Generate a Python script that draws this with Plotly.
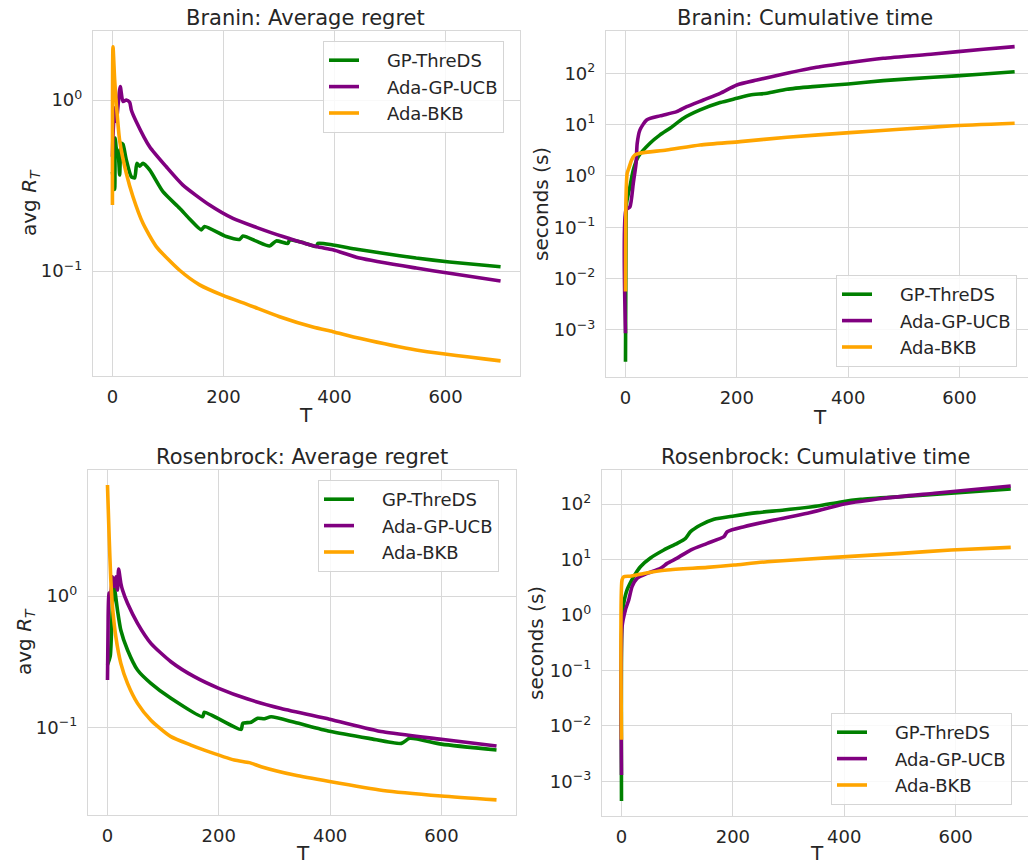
import plotly.graph_objects as go

# ---------------- data ----------------
names = ["GP-ThreDS", "Ada-GP-UCB", "Ada-BKB"]
colors = ["#008000", "#800080", "#FFA500"]
x_ticks = [0, 200, 400, 600]

# Branin: average regret
br_reg_gp_T = [0, 4, 5, 7, 10, 13, 16, 19, 25, 34, 40, 44, 49, 55, 67, 91, 121, 140, 160, 166, 205, 229, 235, 258, 283, 295, 316, 319, 345, 367, 370, 397, 440, 487, 547, 607, 699]
br_reg_gp_v = [0.38, 0.30, 0.60, 0.52, 0.50, 0.364, 0.558, 0.55, 0.446, 0.356, 0.35, 0.426, 0.41, 0.426, 0.39, 0.291, 0.233, 0.20, 0.174, 0.182, 0.159, 0.153, 0.16, 0.15, 0.14, 0.15, 0.145, 0.152, 0.146, 0.139, 0.145, 0.142, 0.134, 0.127, 0.119, 0.113, 0.106]
br_reg_ucb_T = [0, 1, 4, 7, 14, 19, 25, 31, 34, 43, 67, 97, 127, 175, 217, 259, 307, 367, 397, 445, 547, 607, 699]
br_reg_ucb_v = [0.466, 0.62, 0.9, 0.75, 1.2, 0.98, 1.0, 0.97, 0.875, 0.747, 0.533, 0.407, 0.318, 0.243, 0.203, 0.18, 0.159, 0.139, 0.133, 0.119, 0.104, 0.097, 0.0874]
br_reg_bkb_T = [0, 1, 4, 7, 13, 25, 37, 55, 79, 121, 157, 199, 247, 301, 361, 397, 445, 547, 699]
br_reg_bkb_v = [0.243, 2.05, 1.31, 0.95, 0.58, 0.372, 0.272, 0.19, 0.139, 0.101, 0.083, 0.072, 0.063, 0.054, 0.047, 0.0442, 0.0404, 0.0345, 0.0298]

# Branin: cumulative time (seconds)
br_time_gp_T = [0, 1, 2, 8, 14, 23, 44, 62, 80, 104, 134, 170, 200, 224, 254, 290, 337, 400, 463, 553, 637, 699]
br_time_gp_v = [2.4e-4, 0.14, 0.3, 0.62, 1.31, 2.38, 4.33, 6.3, 8.5, 13.3, 19.3, 26.9, 32.6, 37.9, 40.8, 48.9, 55, 62, 72, 83.5, 95.6, 107]
br_time_ucb_T = [0, 1, 8, 14, 19, 21, 26, 38, 62, 92, 110, 140, 170, 200, 236, 284, 343, 400, 463, 553, 643, 699]
br_time_ucb_v = [8.6e-4, 0.218, 0.25, 0.72, 1.77, 4.3, 7.9, 12.3, 14.8, 17.9, 22.4, 30.2, 40.8, 59.3, 74, 97, 131, 161, 196, 238, 294, 331]
br_time_bkb_T = [0, 1, 3, 7, 11, 17, 26, 74, 134, 206, 290, 403, 493, 583, 699]
br_time_bkb_v = [5.6e-3, 0.395, 1.13, 1.52, 2.05, 2.57, 2.77, 3.21, 4.02, 4.67, 5.67, 6.98, 8.1, 9.4, 10.6]

# Rosenbrock: average regret
ro_reg_gp_T = [0, 5, 9, 12, 18, 24, 36, 54, 78, 114, 171, 174, 240, 243, 258, 270, 282, 294, 336, 399, 470, 528, 543, 600, 699]
ro_reg_gp_v = [0.30, 0.35, 0.9, 1.17, 0.78, 0.55, 0.389, 0.274, 0.217, 0.167, 0.121, 0.131, 0.097, 0.108, 0.11, 0.118, 0.117, 0.121, 0.11, 0.094, 0.083, 0.076, 0.083, 0.075, 0.0678]
ro_reg_ucb_T = [0, 1, 3, 6, 9, 12, 15, 18, 20, 24, 27, 36, 54, 78, 114, 156, 200, 252, 312, 399, 495, 600, 699]
ro_reg_ucb_v = [0.23, 0.55, 1.05, 1.08, 1.4, 1.18, 1.4, 1.11, 1.6, 1.25, 1.11, 0.88, 0.62, 0.437, 0.317, 0.244, 0.199, 0.165, 0.14, 0.116, 0.093, 0.0816, 0.0726]
ro_reg_bkb_T = [0, 3, 6, 9, 15, 24, 36, 54, 78, 114, 150, 174, 228, 255, 276, 336, 399, 495, 600, 699]
ro_reg_bkb_v = [6.97, 2.82, 1.32, 0.83, 0.49, 0.308, 0.217, 0.153, 0.114, 0.0855, 0.0738, 0.0676, 0.0568, 0.0543, 0.0506, 0.0437, 0.039, 0.0334, 0.0303, 0.0283]

# Rosenbrock: cumulative time (seconds)
ro_time_gp_T = [0, 1, 4, 10, 22, 34, 52, 76, 100, 115, 124, 142, 166, 202, 244, 292, 352, 394, 430, 502, 592, 699]
ro_time_gp_v = [4.4e-4, 0.93, 1.62, 2.82, 4.9, 7.4, 10.6, 14.8, 19.5, 24, 31.7, 41.8, 53, 60.8, 69.8, 78, 92, 109, 121, 136, 156, 186]
ro_time_ucb_T = [0, 1, 7, 13, 19, 28, 46, 70, 82, 100, 124, 154, 184, 190, 220, 274, 334, 400, 472, 562, 699]
ro_time_ucb_v = [1.3e-3, 0.61, 1.23, 1.86, 3.24, 4.57, 5.6, 6.9, 8.5, 10.6, 14.8, 19.5, 25.8, 31.7, 39, 51.5, 68, 100, 127, 156, 211]
ro_time_bkb_T = [0, 1, 4, 16, 40, 82, 154, 202, 262, 382, 502, 592, 699]
ro_time_bkb_v = [5.6e-3, 4.27, 4.9, 5.0, 5.6, 6.46, 7.2, 7.94, 9.1, 10.9, 12.9, 14.8, 16.5]

titles = ["Branin: Average regret", "Branin: Cumulative time",
          "Rosenbrock: Average regret", "Rosenbrock: Cumulative time"]
regret_ticks = [0.1, 1]
regret_ticktext = ["10<sup>\u22121</sup>", "10<sup>0</sup>"]
time_ticks = [1e-3, 1e-2, 1e-1, 1, 10, 100]
time_ticktext = ["10<sup>\u22123</sup>", "10<sup>\u22122</sup>", "10<sup>\u22121</sup>",
                 "10<sup>0</sup>", "10<sup>1</sup>", "10<sup>2</sup>"]

# ---------------- figure ----------------
W, H = 1028, 865
TXT = "#262626"
GRID = "#d8d8d8"
FONT = "DejaVu Sans"
PAD = "\u00a0\u00a0\u00a0\u00a0"

panels = [
    ("", [(br_reg_gp_T, br_reg_gp_v), (br_reg_ucb_T, br_reg_ucb_v), (br_reg_bkb_T, br_reg_bkb_v)],
     (93, 520), (31, 376), [-35, 734], [-1.614, 0.4035], "legend", (323, 41), "regret"),
    ("2", [(br_time_gp_T, br_time_gp_v), (br_time_ucb_T, br_time_ucb_v), (br_time_bkb_T, br_time_bkb_v)],
     (606, 1028), (31, 377), [-35, 723], [-3.917, 2.824], "legend2", (836, 275), "time"),
    ("3", [(ro_reg_gp_T, ro_reg_gp_v), (ro_reg_ucb_T, ro_reg_ucb_v), (ro_reg_bkb_T, ro_reg_bkb_v)],
     (88, 516), (470, 815), [-35, 734], [-1.663, 0.957], "legend3", (318, 480), "regret"),
    ("4", [(ro_time_gp_T, ro_time_gp_v), (ro_time_ucb_T, ro_time_ucb_v), (ro_time_bkb_T, ro_time_bkb_v)],
     (602, 1028), (470, 816), [-35, 730], [-3.625, 2.613], "legend4", (831, 713), "time"),
]

fig = go.Figure()
layout = dict(width=W, height=H, margin=dict(l=0, r=0, t=0, b=0), autosize=False,
              paper_bgcolor="white", plot_bgcolor="white",
              font=dict(family=FONT, color=TXT, size=18))

for suf, series, xd, yd, xr, yr, leg, lpos, kind in panels:
    for (T, v), nm, col in zip(series, names, colors):
        fig.add_trace(go.Scatter(x=T, y=v, mode="lines", name=PAD + nm,
                                 line=dict(color=col, width=3.6, shape="spline", smoothing=0.6),
                                 xaxis="x" + suf, yaxis="y" + suf, legend=leg))
    layout["xaxis" + suf] = dict(
        domain=[xd[0] / W, xd[1] / W], range=xr, anchor="y" + suf,
        tickvals=x_ticks, showgrid=True, gridcolor=GRID, gridwidth=1,
        showline=True, mirror=True, linecolor=GRID, linewidth=1.2,
        zeroline=False, ticks="", tickfont=dict(size=18, color=TXT, family=FONT),
        ticklabelstandoff=4)
    layout["yaxis" + suf] = dict(
        domain=[1 - yd[1] / H, 1 - yd[0] / H], range=yr, type="log", anchor="x" + suf,
        tickvals=regret_ticks if kind == "regret" else time_ticks,
        ticktext=regret_ticktext if kind == "regret" else time_ticktext,
        showgrid=True, gridcolor=GRID, gridwidth=1,
        showline=True, mirror=True, linecolor=GRID, linewidth=1.2,
        zeroline=False, ticks="", tickfont=dict(size=18, color=TXT, family=FONT),
        ticklabelstandoff=6)
    layout[leg] = dict(x=lpos[0] / W, y=1 - lpos[1] / H, xanchor="left", yanchor="top",
                       bgcolor="rgba(255,255,255,0.85)", bordercolor="#d5d5d5", borderwidth=1,
                       font=dict(size=18, color=TXT, family=FONT), tracegroupgap=0)

annots = []
title_pos = [(305, 18), (805, 18), (302, 457), (815, 457)]
for t, (x, y) in zip(titles, title_pos):
    annots.append(dict(text=t, x=x / W, y=1 - y / H, xref="paper", yref="paper",
                       xanchor="center", yanchor="middle", showarrow=False,
                       font=dict(size=21, color=TXT, family=FONT)))
for x, y in [(306, 415), (820, 417), (303, 853), (817, 853)]:
    annots.append(dict(text="T", x=x / W, y=1 - y / H, xref="paper", yref="paper",
                       xanchor="center", yanchor="middle", showarrow=False,
                       font=dict(size=20, color=TXT, family=FONT)))
for txt, x, y in [("avg <i>R</i><sub><i>T</i></sub>", 30, 203), ("seconds (s)", 541, 204),
                  ("avg <i>R</i><sub><i>T</i></sub>", 25, 642), ("seconds (s)", 536, 643)]:
    annots.append(dict(text=txt, x=x / W, y=1 - y / H, xref="paper", yref="paper",
                       xanchor="center", yanchor="middle", showarrow=False, textangle=-90,
                       font=dict(size=20, color=TXT, family=FONT)))
layout["annotations"] = annots
fig.update_layout(**layout)
fig.write_html("out.html")
